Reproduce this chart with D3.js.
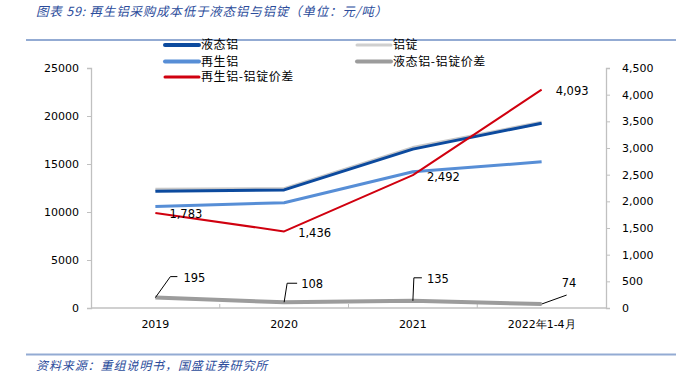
<!DOCTYPE html>
<html>
<head>
<meta charset="utf-8">
<script src="https://cdn.jsdelivr.net/npm/d3@7"></script>
<style>
  body { margin: 0; background: #fff; }
  svg { display: block; }
</style>
</head>
<body>
<script>
// categories and series (元/吨)
const years = ["2019", "2020", "2021", "2022年1-4月"];
const liquidAl = [12150, 12300, 16550, 19250];   // 液态铝
const ingotAl = [12345, 12408, 16685, 19324];    // 铝锭
const recycledAl = [10562, 10972, 14193, 15231]; // 再生铝
const recycledSpread = [1783, 1436, 2492, 4093]; // 再生铝-铝锭价差 (右轴)
const liquidSpread = [195, 108, 135, 74];        // 液态铝-铝锭价差 (右轴)
const leftTicks = [0, 5000, 10000, 15000, 20000, 25000];
const rightTicks = [0, 500, 1000, 1500, 2000, 2500, 3000, 3500, 4000, 4500];

const width = 693, height = 375;
const svg = d3.select("body").append("svg")
  .attr("width", width)
  .attr("height", height);

const numFont = "DejaVu Sans, Verdana, sans-serif";
const cjkFont = "Noto Sans CJK SC, sans-serif";

// title + rules
svg.append("text")
  .attr("x", 36).attr("y", 16)
  .attr("font-family", cjkFont).attr("font-size", 12.5)
  .attr("font-style", "italic")
  .attr("letter-spacing", 0.8)
  .attr("fill", "#2b4c9b")
  .text("图表 59: 再生铝采购成本低于液态铝与铝锭（单位：元/吨）");
svg.append("line").attr("x1", 26).attr("x2", 676).attr("y1", 40).attr("y2", 40)
  .attr("stroke", "#93abd3").attr("stroke-width", 2);
svg.append("line").attr("x1", 26).attr("x2", 676).attr("y1", 354.5).attr("y2", 354.5)
  .attr("stroke", "#93abd3").attr("stroke-width", 2);
svg.append("text")
  .attr("x", 36).attr("y", 370)
  .attr("font-family", cjkFont).attr("font-size", 12)
  .attr("font-style", "italic")
  .attr("letter-spacing", 0.9)
  .attr("fill", "#2b4c9b")
  .text("资料来源：重组说明书，国盛证券研究所");

// scales
const x = d3.scaleBand().domain(years).range([91, 606]);
const yL = d3.scaleLinear().domain([0, 25000]).range([308, 68]);
const yR = d3.scaleLinear().domain([0, 4500]).range([308, 68]);
const cx = d => x(d) + x.bandwidth() / 2;

// axes
const axisL = svg.append("g").attr("transform", "translate(91,0)")
  .call(d3.axisLeft(yL).tickValues(leftTicks).tickFormat(d3.format("d")).tickSize(4).tickPadding(8));
const axisR = svg.append("g").attr("transform", "translate(606,0)")
  .call(d3.axisRight(yR).tickValues(rightTicks).tickFormat(d3.format(",")).tickSize(4).tickPadding(12));
const axisB = svg.append("g").attr("transform", "translate(0,308)")
  .call(d3.axisBottom(x).tickSize(0).tickPadding(12));
axisB.selectAll(".tick text").attr("dy", "0.7em");
// category boundary ticks
svg.append("g").selectAll("line")
  .data(years.slice(1))
  .join("line")
  .attr("x1", d => x(d)).attr("x2", d => x(d))
  .attr("y1", 304).attr("y2", 308)
  .attr("stroke", "#bfbfbf");

[axisL, axisR, axisB].forEach(g => {
  g.selectAll(".domain").attr("stroke", "#c0c0c0").attr("stroke-width", 1.3);
  g.selectAll(".tick line").attr("stroke", "#c0c0c0");
  g.selectAll(".tick text").attr("font-family", numFont).attr("font-size", 11).attr("fill", "#000");
});
axisB.select(".domain").attr("d", "M91,0H606");

// series lines
const lineL = d3.line().x((d, i) => cx(years[i])).y(d => yL(d));
const lineR = d3.line().x((d, i) => cx(years[i])).y(d => yR(d));

const series = [
  { vals: ingotAl, gen: lineL, color: "#c8c8c8", w: 3.5 },
  { vals: liquidAl, gen: lineL, color: "#0c4a9e", w: 3 },
  { vals: recycledAl, gen: lineL, color: "#578ed6", w: 3 },
  { vals: liquidSpread, gen: lineR, color: "#9c9c9c", w: 4 },
  { vals: recycledSpread, gen: lineR, color: "#d0000f", w: 2 }
];
svg.append("g").selectAll("path")
  .data(series)
  .join("path")
  .attr("d", s => s.gen(s.vals))
  .attr("fill", "none")
  .attr("stroke", s => s.color)
  .attr("stroke-width", s => s.w)
  .attr("stroke-linejoin", "round");

// labels for red series
svg.append("g").selectAll("text")
  .data(recycledSpread)
  .join("text")
  .attr("x", (d, i) => cx(years[i]) + 14)
  .attr("y", d => yR(d) + 1.5)
  .attr("dy", "0.35em")
  .attr("font-family", numFont).attr("font-size", 11.5)
  .attr("fill", "#000")
  .text(d => d3.format(",")(d));

// leader-line labels for grey series: [dx1, dy1, dx2, dy2]
const leaders = [[15, -21, 22, -21], [3, -19, 13, -19], [1, -23, 9, -23], [25, -9, 25, -9]];
const labelOff = [[28, -20], [17, -18], [14, -22], [20, -21]];
const gL = svg.append("g");
liquidSpread.forEach((d, i) => {
  const px = cx(years[i]), py = yR(d);
  const l = leaders[i];
  gL.append("path")
    .attr("d", `M${px},${py}L${px + l[0]},${py + l[1]}L${px + l[2]},${py + l[3]}`)
    .attr("fill", "none").attr("stroke", "#000").attr("stroke-width", 1);
  gL.append("text")
    .attr("x", px + labelOff[i][0])
    .attr("y", py + labelOff[i][1])
    .attr("dy", "0.35em")
    .attr("font-family", numFont).attr("font-size", 11.5)
    .attr("fill", "#000")
    .text(d);
});

// legend
const legend = [
  { name: "液态铝", color: "#0c4a9e", w: 4, x: 165, y: 45 },
  { name: "铝锭", color: "#cfcfcf", w: 3, x: 357, y: 45 },
  { name: "再生铝", color: "#578ed6", w: 4, x: 165, y: 61.5 },
  { name: "液态铝-铝锭价差", color: "#9c9c9c", w: 4, x: 357, y: 61.5 },
  { name: "再生铝-铝锭价差", color: "#d0000f", w: 3, x: 165, y: 77 }
];
const lg = svg.append("g").selectAll("g").data(legend).join("g")
  .attr("transform", d => `translate(${d.x},${d.y})`);
lg.append("line").attr("x1", 0).attr("x2", 34).attr("y1", 0).attr("y2", 0)
  .attr("stroke", d => d.color).attr("stroke-width", d => d.w).attr("stroke-linecap", "round");
lg.append("text").attr("x", 36).attr("y", 0).attr("dy", "0.35em")
  .attr("font-family", cjkFont).attr("font-size", 12)
  .attr("letter-spacing", 0.6)
  .attr("fill", "#000")
  .text(d => d.name);
</script>
</body>
</html>
